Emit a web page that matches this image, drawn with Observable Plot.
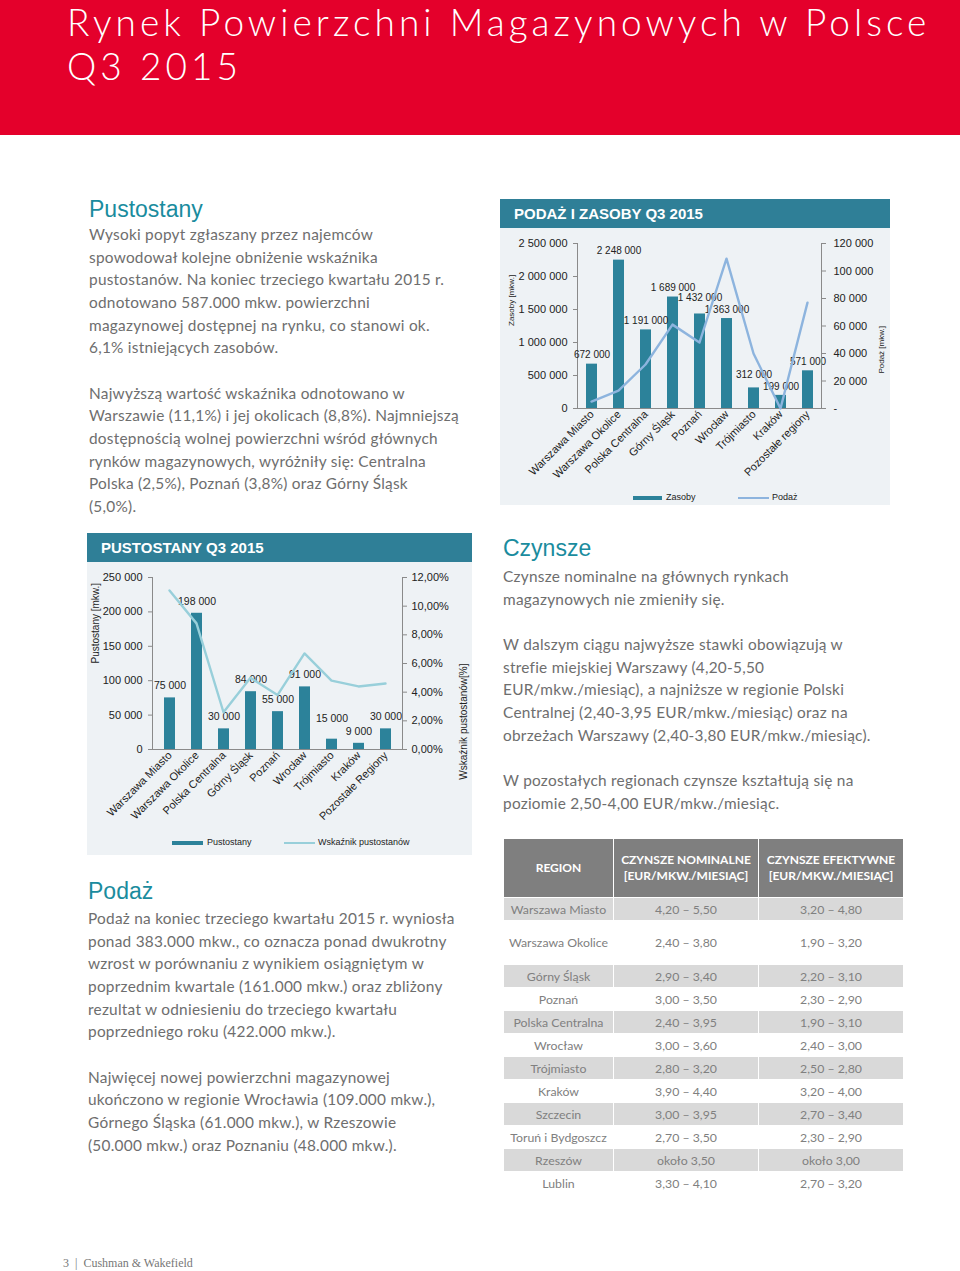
<!DOCTYPE html>
<html>
<head>
<meta charset="utf-8">
<script src="https://cdn.jsdelivr.net/npm/d3@7"></script>
<script src="https://cdn.jsdelivr.net/npm/@observablehq/plot@0.6"></script>
<style>
  html, body { margin: 0; padding: 0; background: #fff; }
  #page { position: relative; width: 960px; height: 1271px; overflow: hidden; font-family: "Lato", sans-serif; }
  .abs { position: absolute; }
  #band { left: 0; top: 0; width: 960px; height: 135px; background: #E4002B; }
  .title { left: 67px; color: #fff; font-family: "Lato", sans-serif; font-weight: 300; font-size: 37px; line-height: 36px; height: 40px; letter-spacing: 4.05px; white-space: nowrap; }
  .h2 { font-family: "Liberation Sans", Arial, sans-serif; color: #1A8C9E; font-size: 23px; line-height: 26px; white-space: nowrap; }
  .para { color: #6E6E6E; font-size: 15.4px; line-height: 22.67px; letter-spacing: 0.25px; white-space: nowrap; }
  .panel { background: #EEF2F5; }
  .phead { background: #2F7F97; color: #fff; font-family: "Liberation Sans", Arial, sans-serif; font-weight: bold; font-size: 15px; line-height: 29px; padding-left: 14px; box-sizing: border-box; white-space: nowrap; }
  .legend { font-family: "Liberation Sans", Arial, sans-serif; font-size: 9px; color: #222; white-space: nowrap; }
  .sw { position: absolute; }
  table { border-collapse: collapse; font-family: "Lato", sans-serif; font-size: 12.3px; color: #808080; table-layout: fixed; }
  td, th { text-align: center; padding: 0; border: 1px solid #fff; }
  th { background: #7F7F7F; color: #fff; font-weight: bold; font-size: 12px; line-height: 16px; }
  tr.g td { background: #D9D9D9; }
  tr.w td { background: #FFFFFF; }
  #footer { left: 63px; top: 1256px; font-family: "Liberation Serif", serif; font-size: 12px; color: #777; white-space: nowrap; }
  .plotwrap { position: absolute; }
  .plotwrap svg { position: absolute; left: 0; top: 0; }
</style>
</head>
<body>
<div id="page">
  <div id="band" class="abs"></div>
  <div class="abs title" style="top:4px;">Rynek Powierzchni Magazynowych w Polsce</div>
  <div class="abs title" style="top:48px;">Q3 2015</div>

  <div class="abs h2" style="left:89px; top:196px;">Pustostany</div>
  <div class="abs para" id="p1" style="left:89px; top:223px;"></div>

  <div class="abs h2" style="left:503px; top:535px;">Czynsze</div>
  <div class="abs para" id="p2" style="left:503px; top:565px;"></div>

  <div class="abs h2" style="left:88px; top:878px;">Podaż</div>
  <div class="abs para" id="p3" style="left:88px; top:907px;"></div>

  <!-- Podaż i zasoby panel -->
  <div class="abs phead" style="left:500px; top:199px; width:390px; height:29px;">PODAŻ I ZASOBY Q3 2015</div>
  <div class="abs panel" style="left:500px; top:228px; width:390px; height:277px;"></div>
  <div class="plotwrap" id="chart1" style="left:500px; top:228px; width:390px; height:262px;"></div>
  <div class="abs legend" style="left:500px; top:492px; width:390px; height:12px;">
    <div class="sw" style="left:133px; top:4px; width:29px; height:4px; background:#2C829A;"></div>
    <div class="sw" style="left:166px; top:0px;">Zasoby</div>
    <div class="sw" style="left:238px; top:5px; width:31px; height:2px; background:#8DB4DE;"></div>
    <div class="sw" style="left:272px; top:0px;">Podaż</div>
  </div>

  <!-- Pustostany panel -->
  <div class="abs phead" style="left:87px; top:533px; width:385px; height:29px;">PUSTOSTANY Q3 2015</div>
  <div class="abs panel" style="left:87px; top:562px; width:385px; height:293px;"></div>
  <div class="plotwrap" id="chart2" style="left:87px; top:562px; width:385px; height:272px;"></div>
  <div class="abs legend" style="left:87px; top:837px; width:385px; height:12px;">
    <div class="sw" style="left:85px; top:4px; width:31px; height:4px; background:#2C829A;"></div>
    <div class="sw" style="left:120px; top:0px;">Pustostany</div>
    <div class="sw" style="left:197px; top:5px; width:31px; height:2px; background:#98CFDA;"></div>
    <div class="sw" style="left:231px; top:0px;">Wskaźnik pustostanów</div>
  </div>

  <div class="abs" id="tablewrap" style="left:503px; top:838px;"></div>

  <div id="footer" class="abs">3&nbsp;&nbsp;|&nbsp;&nbsp;Cushman &amp; Wakefield</div>
</div>

<script>
// ---------------- DATA ----------------
const regionsSupply = ["Warszawa Miasto", "Warszawa Okolice", "Polska Centralna", "Górny Śląsk", "Poznań", "Wrocław", "Trójmiasto", "Kraków", "Pozostałe regiony"];
const zasoby = [672000, 2248000, 1191000, 1689000, 1432000, 1363000, 312000, 199000, 571000];
const podaz = [5000, 13000, 32000, 61000, 48000, 109000, 40000, 0, 77000];
const zasobyTicks = [0, 500000, 1000000, 1500000, 2000000, 2500000];
const podazTicks = [0, 20000, 40000, 60000, 80000, 100000, 120000];

const regionsVacancy = ["Warszawa Miasto", "Warszawa Okolice", "Polska Centralna", "Górny Śląsk", "Poznań", "Wrocław", "Trójmiasto", "Kraków", "Pozostałe Regiony"];
const pustostany = [75000, 198000, 30000, 84000, 55000, 91000, 15000, 9000, 30000];
const wskaznik = [11.1, 8.8, 2.6, 5.0, 3.8, 6.7, 4.8, 4.4, 4.6];
const pustTicks = [0, 50000, 100000, 150000, 200000, 250000];
const wskTicks = [0, 2, 4, 6, 8, 10, 12];

const tableRegions = ["Warszawa Miasto", "Warszawa Okolice", "Górny Śląsk", "Poznań", "Polska Centralna", "Wrocław", "Trójmiasto", "Kraków", "Szczecin", "Toruń i Bydgoszcz", "Rzeszów", "Lublin"];
const tableNominal = ["4,20 – 5,50", "2,40 – 3,80", "2,90 – 3,40", "3,00 – 3,50", "2,40 – 3,95", "3,00 – 3,60", "2,80 – 3,20", "3,90 – 4,40", "3,00 – 3,95", "2,70 – 3,50", "około 3,50", "3,30 – 4,10"];
const tableEffective = ["3,20 – 4,80", "1,90 – 3,20", "2,20 – 3,10", "2,30 – 2,90", "1,90 – 3,10", "2,40 – 3,00", "2,50 – 2,80", "3,20 – 4,00", "2,70 – 3,40", "2,30 – 2,90", "około 3,00", "2,70 – 3,20"];
const tableHeaders = ["REGION", "CZYNSZE NOMINALNE<br>[EUR/MKW./MIESIĄC]", "CZYNSZE EFEKTYWNE<br>[EUR/MKW./MIESIĄC]"];

const para1 = ["Wysoki popyt zgłaszany przez najemców", "spowodował kolejne obniżenie wskaźnika", "pustostanów. Na koniec trzeciego kwartału 2015 r.", "odnotowano 587.000 mkw. powierzchni", "magazynowej dostępnej na rynku, co stanowi ok.", "6,1% istniejących zasobów.", "", "Najwyższą wartość wskaźnika odnotowano w", "Warszawie (11,1%) i jej okolicach (8,8%). Najmniejszą", "dostępnością wolnej powierzchni wśród głównych", "rynków magazynowych, wyróżniły się: Centralna", "Polska (2,5%), Poznań (3,8%) oraz Górny Śląsk", "(5,0%)."];
const para2 = ["Czynsze nominalne na głównych rynkach", "magazynowych nie zmieniły się.", "", "W dalszym ciągu najwyższe stawki obowiązują w", "strefie miejskiej Warszawy (4,20-5,50", "EUR/mkw./miesiąc), a najniższe w regionie Polski", "Centralnej (2,40-3,95 EUR/mkw./miesiąc) oraz na", "obrzeżach Warszawy (2,40-3,80 EUR/mkw./miesiąc).", "", "W pozostałych regionach czynsze kształtują się na", "poziomie 2,50-4,00 EUR/mkw./miesiąc."];
const para3 = ["Podaż na koniec trzeciego kwartału 2015 r. wyniosła", "ponad 383.000 mkw., co oznacza ponad dwukrotny", "wzrost w porównaniu z wynikiem osiągniętym w", "poprzednim kwartale (161.000 mkw.) oraz zbliżony", "rezultat w odniesieniu do trzeciego kwartału", "poprzedniego roku (422.000 mkw.).", "", "Najwięcej nowej powierzchni magazynowej", "ukończono w regionie Wrocławia (109.000 mkw.),", "Górnego Śląska (61.000 mkw.), w Rzeszowie", "(50.000 mkw.) oraz Poznaniu (48.000 mkw.)."];

// ---------------- TEXT ----------------
const fillPara = (id, lines) => { document.getElementById(id).innerHTML = lines.map(l => l === "" ? "&nbsp;" : l).join("<br>"); };
fillPara("p1", para1); fillPara("p2", para2); fillPara("p3", para3);

// ---------------- CHARTS ----------------
const fmtSp = d => d3.format(",")(d).replace(/,/g, " ");
const fmtPct = d => d3.format(".2f")(d).replace(".", ",") + "%";
const BAR = "#2C829A";
const AXIS = "#8A8A8A";
const FONT = "'Liberation Sans', Arial, sans-serif";

// push up the label of the taller bar when two neighbouring value labels collide
function declutter(svg) {
  const g = svg.querySelector('g[aria-label="text"]');
  if (!g) return;
  const els = Array.from(g.querySelectorAll("text"));
  for (let i = 0; i < els.length - 1; i++) {
    const a = els[i], b = els[i + 1];
    const ra = a.getBoundingClientRect(), rb = b.getBoundingClientRect();
    const hOverlap = ra.right > rb.left + 1 && rb.right > ra.left + 1;
    const vOverlap = ra.bottom > rb.top && rb.bottom > ra.top;
    if (hOverlap && vOverlap) {
      const upper = ra.top <= rb.top ? a : b;
      const lower = upper === a ? b : a;
      const ru = upper.getBoundingClientRect(), rl = lower.getBoundingClientRect();
      const shift = ru.bottom - rl.top + 1;
      upper.setAttribute("transform", (upper.getAttribute("transform") || "") + ` translate(0,${-shift})`);
    }
  }
}

function dual(el, cfg) {
  const common = {
    width: cfg.width, height: cfg.height,
    marginLeft: cfg.ml, marginRight: cfg.mr, marginTop: cfg.mt, marginBottom: cfg.mb,
    style: { background: "transparent", fontFamily: FONT, fontSize: cfg.fs + "px", color: "#222", overflow: "visible" }
  };
  const xs = { domain: cfg.cats, paddingInner: 0.6, paddingOuter: 0.3, label: null };
  const rows = cfg.cats.map((c, i) => ({ cat: c, bar: cfg.bars[i], line: cfg.lines[i] }));
  const p1 = Plot.plot({
    ...common,
    x: xs,
    y: { domain: [0, cfg.leftMax], label: null },
    marks: [
      Plot.barY(rows, { x: "cat", y: "bar", fill: BAR }),
      Plot.ruleY([0], { stroke: AXIS }),
      Plot.frame({ anchor: "left", stroke: AXIS }),
      Plot.axisY({ ticks: cfg.leftTicks, tickFormat: cfg.leftFmt, tickSize: 4, tickPadding: cfg.lpad, stroke: AXIS, label: null, fontSize: cfg.fs }),
      Plot.axisX({ tickRotate: -45, tickSize: 0, tickPadding: 4, label: null, fontSize: cfg.fs }),
      Plot.text(rows, { x: "cat", y: "bar", text: d => fmtSp(d.bar), dy: cfg.labelDy, fontSize: cfg.lfs, fill: "#222" }),
      Plot.text([cfg.leftTitle], { text: d => d, frameAnchor: "left", rotate: -90, dx: -cfg.ltOff, fontSize: cfg.tfs, fill: "#222" })
    ]
  });
  const p2 = Plot.plot({
    ...common,
    x: { ...xs, axis: null },
    y: { domain: [0, cfg.rightMax], label: null },
    marks: [
      Plot.lineY(rows, { x: "cat", y: "line", stroke: cfg.lineColor, strokeWidth: 2.4 }),
      Plot.frame({ anchor: "right", stroke: AXIS }),
      Plot.axisY({ anchor: "right", ticks: cfg.rightTicks, tickFormat: cfg.rightFmt, tickSize: 4, tickPadding: cfg.rpad, stroke: AXIS, label: null, fontSize: cfg.fs }),
      Plot.text([cfg.rightTitle], { text: d => d, frameAnchor: "right", rotate: -90, dx: cfg.rtOff, fontSize: cfg.tfs, fill: "#222" })
    ]
  });
  el.appendChild(p1); el.appendChild(p2);
  declutter(p1);
}

dual(document.getElementById("chart1"), {
  width: 390, height: 262, ml: 77, mr: 69, mt: 15, mb: 82, fs: 11, lfs: 10, tfs: 8,
  cats: regionsSupply, bars: zasoby, lines: podaz,
  leftMax: 2500000, leftTicks: zasobyTicks, leftFmt: fmtSp, lpad: 6,
  rightMax: 120000, rightTicks: podazTicks, rightFmt: d => d === 0 ? "-" : fmtSp(d), rpad: 8,
  lineColor: "#8DB4DE", labelDy: -9,
  leftTitle: "Zasoby [mkw.]", ltOff: 66, rightTitle: "Podaż [mkw.]", rtOff: 60
});

dual(document.getElementById("chart2"), {
  width: 385, height: 272, ml: 65, mr: 70, mt: 15, mb: 85, fs: 11, lfs: 10.5, tfs: 10,
  cats: regionsVacancy, bars: pustostany, lines: wskaznik,
  leftMax: 250000, leftTicks: pustTicks, leftFmt: fmtSp, lpad: 6,
  rightMax: 12, rightTicks: wskTicks, rightFmt: fmtPct, rpad: 5,
  lineColor: "#98CFDA", labelDy: -12,
  leftTitle: "Pustostany [mkw.]", ltOff: 57, rightTitle: "Wskaźnik pustostanów[%]", rtOff: 61
});

// ---------------- TABLE ----------------
const rowHeights = [23, 44, 23, 23, 23, 23, 23, 23, 23, 23, 23, 23];
let html = '<table style="width:400px"><colgroup><col style="width:110px"><col style="width:145px"><col style="width:145px"></colgroup>';
html += '<tr style="height:59px">' + tableHeaders.map(h => `<th>${h}</th>`).join("") + '</tr>';
tableRegions.forEach((r, i) => {
  html += `<tr class="${i % 2 === 0 ? "g" : "w"}" style="height:${rowHeights[i]}px"><td>${r}</td><td>${tableNominal[i]}</td><td>${tableEffective[i]}</td></tr>`;
});
html += '</table>';
document.getElementById("tablewrap").innerHTML = html;
</script>
</body>
</html>
